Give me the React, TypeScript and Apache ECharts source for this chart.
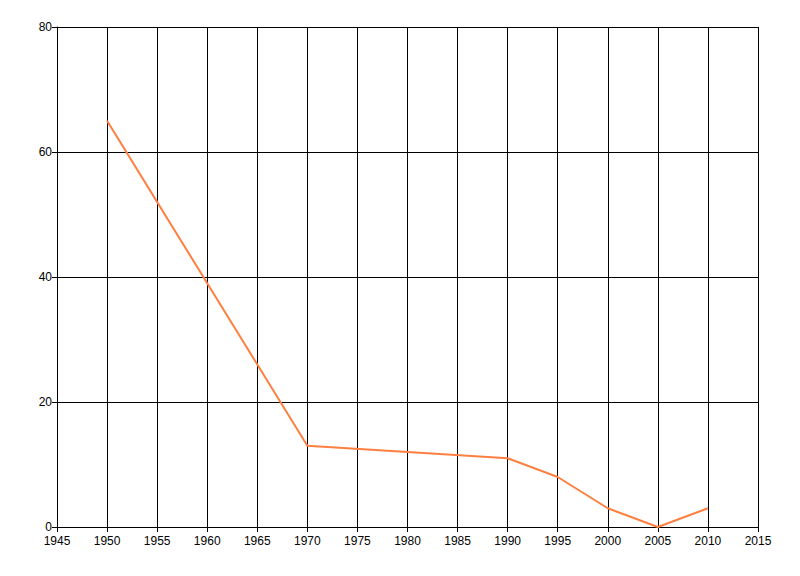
import { useEffect, useRef } from "react";
import * as echarts from "echarts";

const years = [1950, 1970, 1990, 1995, 2000, 2005, 2010];
const values = [65, 13, 11, 8, 3, 0, 3];

const font = "'Liberation Sans', Arial, sans-serif";

export default function App() {
  const ref = useRef<HTMLDivElement | null>(null);

  useEffect(() => {
    document.body.style.margin = "0";
    if (!ref.current) return;
    const chart = echarts.init(ref.current, undefined, { renderer: "svg" });

    chart.setOption({
      animation: false,
      backgroundColor: "#ffffff",
      grid: { left: 57, right: 42, top: 27, bottom: 49 },
      xAxis: {
        type: "value",
        min: 1945,
        max: 2015,
        interval: 5,
        axisLine: { show: true, lineStyle: { color: "#000", width: 1 } },
        axisTick: { show: true, length: 5, lineStyle: { color: "#000" } },
        axisLabel: {
          color: "#000",
          fontFamily: font,
          fontSize: 12,
          margin: 8,
          formatter: (v: number) => String(v),
        },
        splitLine: { show: true, lineStyle: { color: "#000", width: 1 } },
      },
      yAxis: {
        type: "value",
        min: 0,
        max: 80,
        interval: 20,
        axisLine: { show: true, lineStyle: { color: "#000", width: 1 } },
        axisTick: { show: true, length: 5, lineStyle: { color: "#000" } },
        axisLabel: { color: "#000", fontFamily: font, fontSize: 12, margin: 5 },
        splitLine: { show: true, lineStyle: { color: "#000", width: 1 } },
      },
      series: [
        {
          type: "line",
          data: years.map((y, i) => [y, values[i]]),
          showSymbol: false,
          lineStyle: { color: "#FF7F40", width: 2 },
          itemStyle: { color: "#FF7F40" },
        },
      ],
    });

    return () => chart.dispose();
  }, []);

  return <div ref={ref} style={{ width: 800, height: 576 }} />;
}
